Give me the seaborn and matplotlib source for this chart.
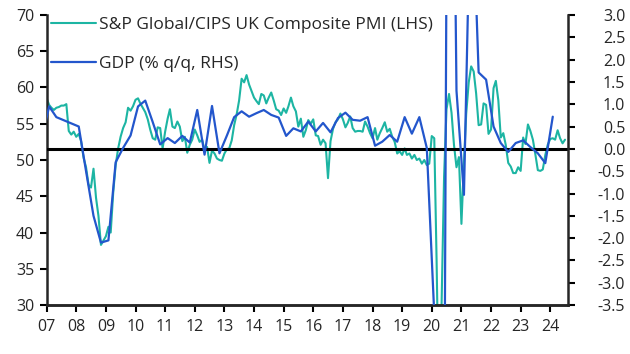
import pandas as pd
import numpy as np
import matplotlib
matplotlib.use('Agg')
import matplotlib.pyplot as plt
import matplotlib.dates as mdates
import seaborn as sns

sns.set_style('ticks')
plt.rcParams['font.family'] = ['Open Sans', 'DejaVu Sans']
plt.rcParams['axes.unicode_minus'] = False

# 月度PMI (2007年1月起)
pmi_start = '2007-01-01'
pmi = [
    58.5, 57.6, 57.2, 56.9, 57.2, 57.3, 57.5, 57.5, 57.7, 54.0, 53.5, 53.9,   # 2007
    53.2, 53.6, 52.6, 50.3, 49.0, 46.6, 46.2, 48.8, 44.8, 42.3, 38.3, 38.9,   # 2008
    39.5, 40.8, 40.0, 45.5, 49.3, 51.6, 53.2, 54.4, 55.2, 57.2, 56.8, 57.4,   # 2009
    58.3, 58.5, 57.8, 57.2, 56.6, 55.6, 54.2, 53.0, 52.8, 54.5, 54.4, 51.6,   # 2010
    53.9, 55.7, 57.0, 54.6, 54.4, 55.3, 54.6, 52.6, 53.2, 51.0, 52.1, 52.8,   # 2011
    54.2, 53.4, 52.5, 52.8, 51.4, 51.8, 49.6, 51.3, 50.9, 50.2, 50.0, 49.9,   # 2012
    50.9, 51.5, 51.6, 52.7, 54.8, 56.3, 58.2, 61.2, 60.7, 61.7, 60.4, 59.5,   # 2013
    58.6, 58.1, 57.7, 59.1, 58.9, 57.8, 58.6, 59.3, 58.2, 57.0, 56.8, 56.2,   # 2014
    57.1, 56.5, 57.4, 58.6, 57.4, 56.7, 54.6, 55.7, 53.2, 54.1, 55.5, 55.0,   # 2015
    55.6, 53.4, 53.3, 52.1, 52.8, 52.3, 47.5, 52.6, 54.3, 55.2, 55.6, 56.4,   # 2016
    55.6, 54.5, 55.1, 56.0, 54.4, 53.9, 54.0, 54.0, 53.9, 55.3, 54.6, 53.7,   # 2017
    53.0, 54.4, 52.8, 53.7, 54.4, 55.2, 53.9, 54.3, 53.2, 52.5, 50.9, 51.2,   # 2018
    50.7, 51.6, 50.7, 50.9, 50.2, 50.7, 50.0, 50.2, 49.5, 50.0, 49.3, 49.5,   # 2019
    53.3, 53.0, 36.0, 13.8, 30.0, 47.7, 57.0, 59.1, 56.5, 52.1, 49.0, 50.4,   # 2020
    41.2, 49.6, 56.4, 60.7, 62.9, 62.2, 59.2, 54.8, 54.9, 57.8, 57.6, 53.6,   # 2021
    54.2, 59.9, 60.9, 58.2, 53.1, 53.7, 52.1, 49.6, 49.1, 48.2, 48.2, 49.0,   # 2022
    48.5, 53.1, 52.2, 54.9, 54.0, 52.8, 50.8, 48.6, 48.5, 48.7, 50.7, 52.1,   # 2023
    52.9, 53.0, 52.8, 54.1, 53.0, 52.3, 52.8,                                 # 2024
]

# 季度GDP环比 (2006年Q4起, 画在季度中间月)
gdp_start = '2006-11-01'
gdp = [
    0.2,
    0.95, 0.71, 0.64, 0.57,      # 2007
    0.5, -0.5, -1.5, -2.1,       # 2008
    -2.05, -0.3, 0.02, 0.3,      # 2009
    0.95, 1.08, 0.6, 0.1,        # 2010
    0.24, 0.13, 0.29, 0.14,      # 2011
    0.87, -0.13, 0.96, -0.1,     # 2012
    0.3, 0.71, 0.84, 0.72,       # 2013
    0.8, 0.87, 0.76, 0.7,        # 2014
    0.29, 0.46, 0.39, 0.61,      # 2015
    0.39, 0.58, 0.37, 0.69,      # 2016
    0.81, 0.65, 0.63, 0.71,      # 2017
    0.07, 0.16, 0.31, 0.16,      # 2018
    0.71, 0.34, 0.71, 0.02,      # 2019
    -3.7, -20.3, 16.8, 1.3,      # 2020
    -1.03, 6.5, 1.71, 1.55,      # 2021
    0.5, 0.13, -0.07, 0.13,      # 2022
    0.19, 0.04, -0.1, -0.32,     # 2023
    0.72,                        # 2024
]

pmi_label = 'S&P Global/CIPS UK Composite PMI (LHS)'
gdp_label = 'GDP (% q/q, RHS)'
pmi_color = '#1db5a3'
gdp_color = '#2356cc'

df_pmi = pd.DataFrame({'date': pd.date_range(pmi_start, periods=len(pmi), freq='MS'),
                       'value': pmi})
df_gdp = pd.DataFrame({'date': pd.date_range(gdp_start, periods=len(gdp), freq='3MS'),
                       'value': gdp})

fig = plt.figure(figsize=(6.3, 3.54), dpi=100)
ax = fig.add_axes([0.074, 0.138, 0.828, 0.82])
ax2 = ax.twinx()

sns.lineplot(data=df_pmi, x='date', y='value', ax=ax, color=pmi_color, lw=1.5, label=pmi_label)
ax2.axhline(0, color='black', lw=2.2, zorder=1)
sns.lineplot(data=df_gdp, x='date', y='value', ax=ax2, color=gdp_color, lw=1.6, label=gdp_label, zorder=3)

ax.set_ylim(30, 70)
ax.set_yticks(np.arange(30, 71, 5))
ax2.set_ylim(-3.5, 3.0)
ax2.set_yticks(np.arange(-3.5, 3.01, 0.5))
ax2.set_yticklabels([f'{v:.1f}' for v in np.arange(-3.5, 3.01, 0.5)])
ax.set_xlim(pd.Timestamp('2007-01-01'), pd.Timestamp('2024-08-10'))
ax.xaxis.set_major_locator(mdates.YearLocator())
ax.xaxis.set_major_formatter(mdates.DateFormatter('%y'))

for a in (ax, ax2):
    a.set_xlabel('')
    a.set_ylabel('')
    a.spines['top'].set_visible(False)
    for s in ('left', 'right', 'bottom'):
        a.spines[s].set_linewidth(1.8)
    a.tick_params(axis='both', length=5, width=1.5, labelsize=11.5, color='black')
ax.spines['right'].set_visible(False)
ax2.spines['left'].set_visible(False)
ax.tick_params(axis='y', pad=4)
ax.tick_params(axis='x', pad=5)
ax2.tick_params(axis='y', pad=36)
for t in ax2.get_yticklabels():
    t.set_horizontalalignment('right')

if ax.get_legend():
    ax.get_legend().remove()
h1, l1 = ax.get_legend_handles_labels()
h2, l2 = ax2.get_legend_handles_labels()
ax2.legend(h1 + h2, l1 + l2, loc='upper left', bbox_to_anchor=(0.008, 0.992),
           frameon=False, fontsize=12.5, handlelength=2.6, handletextpad=0.2,
           labelspacing=1.3, borderaxespad=0, borderpad=0)

fig.savefig('out.png', dpi=100)
